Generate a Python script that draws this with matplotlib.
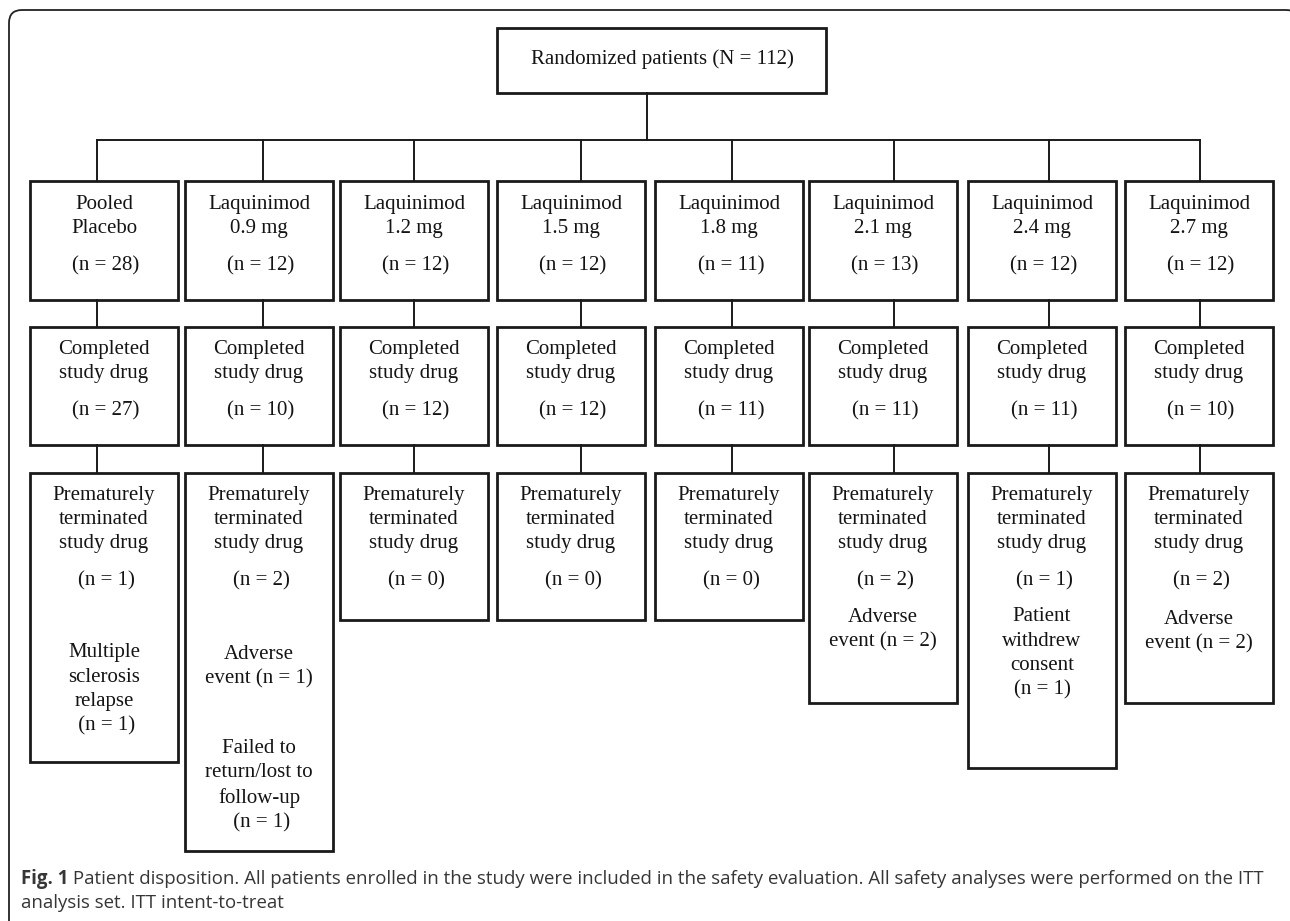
import matplotlib.pyplot as plt
from matplotlib.patches import Rectangle, FancyBboxPatch

# data
total_n = 112
arms = ['Pooled\nPlacebo', 'Laquinimod\n0.9 mg', 'Laquinimod\n1.2 mg', 'Laquinimod\n1.5 mg',
        'Laquinimod\n1.8 mg', 'Laquinimod\n2.1 mg', 'Laquinimod\n2.4 mg', 'Laquinimod\n2.7 mg']
n_randomized = [28, 12, 12, 12, 11, 13, 12, 12]
n_completed = [27, 10, 12, 12, 11, 11, 11, 10]
n_terminated = [1, 2, 0, 0, 0, 2, 1, 2]
reasons = [['Multiple\nsclerosis\nrelapse\n (n = {})'],
           ['Adverse\nevent (n = {})', 'Failed to\nreturn/lost to\nfollow-up\n (n = {})'],
           [], [], [],
           ['Adverse\nevent (n = {})'],
           ['Patient\nwithdrew\nconsent\n(n = {})'],
           ['Adverse\nevent (n = {})']]
reason_counts = [[1], [1, 1], [], [], [], [2], [1], [2]]

caption_bold = 'Fig. 1'
caption_1 = ' Patient disposition. All patients enrolled in the study were included in the safety evaluation. All safety analyses were performed on the ITT'
caption_2 = 'analysis set. ITT intent-to-treat'

# layout (pixels)
box_left = [30, 185, 340, 497, 655, 809, 968, 1125]
box_w = 148
drop_x = [97, 263, 414, 581, 732, 894, 1049, 1200]
row3_bottom = [762, 851, 620, 620, 620, 703, 768, 703]
reason_y = [[687], [664, 783], [], [], [], [627], [651], [629]]

fig = plt.figure(figsize=(12.9, 9.21), dpi=100)
ax = fig.add_axes([0, 0, 1, 1])
ax.set_xlim(0, 1290)
ax.set_ylim(921, 0)
ax.axis('off')

serif = 'Liberation Serif'
fs = 15
tc = '#141414'
lc = '#1a1a1a'
ls = 1.38
dy = 2.5

# outer frame (right and bottom edges fall outside the picture)
frame = FancyBboxPatch((9, 10), 1290, 960, boxstyle='round,pad=0,rounding_size=13',
                       fill=False, ec='#222222', lw=1.3)
ax.add_patch(frame)

def box(x, y0, y1, lw=2.0):
    ax.add_patch(Rectangle((x, y0), box_w, y1 - y0, fill=False, ec=lc, lw=lw))

def label(x, y, s):
    ax.text(x, y + dy, s, ha='center', va='center', fontsize=fs, family=serif,
            color=tc, linespacing=ls)

# top box
ax.add_patch(Rectangle((497, 28), 329, 65, fill=False, ec=lc, lw=2.0))
label(662, 57, 'Randomized patients (N = %d)' % total_n)

# connectors
ax.plot([647, 647], [93, 140], color=lc, lw=1.4)
ax.plot([drop_x[0], drop_x[-1]], [140, 140], color=lc, lw=1.4)
for i in range(len(arms)):
    ax.plot([drop_x[i], drop_x[i]], [140, 181], color=lc, lw=1.4)
    ax.plot([drop_x[i], drop_x[i]], [300, 327], color=lc, lw=1.4)
    ax.plot([drop_x[i], drop_x[i]], [445, 473], color=lc, lw=1.4)

for i, arm in enumerate(arms):
    x = box_left[i]
    cx = x + box_w / 2
    # row 1
    box(x, 181, 300)
    label(cx, 214, arm)
    label(cx + 2, 263, '(n = %d)' % n_randomized[i])
    # row 2
    box(x, 327, 445)
    label(cx, 359, 'Completed\nstudy drug')
    label(cx + 2, 408, '(n = %d)' % n_completed[i])
    # row 3
    box(x, 473, row3_bottom[i])
    label(cx, 517, 'Prematurely\nterminated\nstudy drug')
    label(cx + 2, 578, '(n = %d)' % n_terminated[i])
    for r, c, y in zip(reasons[i], reason_counts[i], reason_y[i]):
        label(cx, y, r.format(c))

# caption
cap_c = '#363636'
cfs = 13.45
t = ax.text(21, 879, caption_bold, ha='left', va='center', fontsize=cfs,
            family='Open Sans', weight='bold', color=cap_c)
fig.canvas.draw()
bb = t.get_window_extent(renderer=fig.canvas.get_renderer())
x_end = ax.transData.inverted().transform((bb.x1, bb.y0))[0]
ax.text(x_end, 879, caption_1, ha='left', va='center', fontsize=cfs,
        family='Open Sans', color=cap_c)
ax.text(21, 903, caption_2, ha='left', va='center', fontsize=cfs,
        family='Open Sans', color=cap_c)

plt.savefig('out.png', dpi=100)
